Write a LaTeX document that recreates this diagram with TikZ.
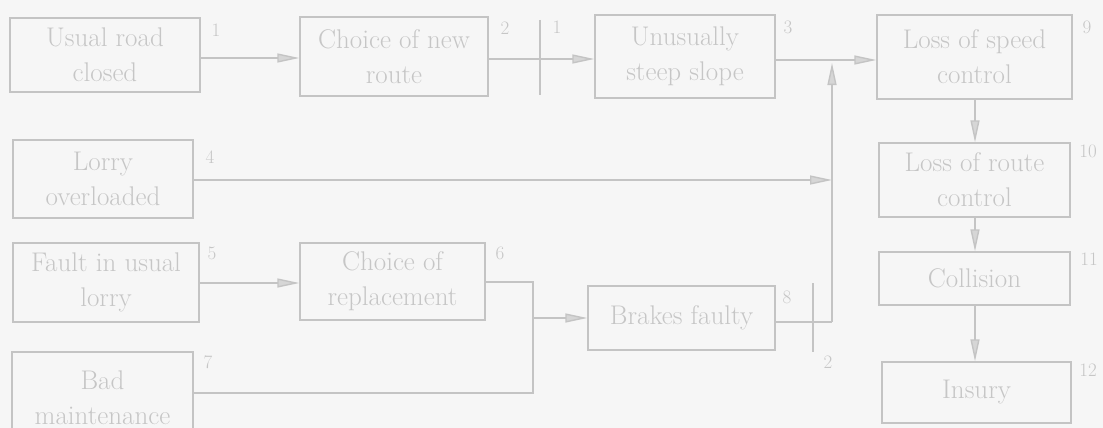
\documentclass[tikz,border=0pt]{standalone}
\usetikzlibrary{arrows.meta}
\definecolor{bgc}{RGB}{246,246,246}
\definecolor{linec}{RGB}{196,196,196}
\definecolor{textc}{RGB}{198,198,198}
\definecolor{headc}{RGB}{214,214,214}
\tikzset{
  evbox/.style={draw=linec, line width=1.4pt, align=center, text=textc,
    inner sep=0pt, font=\fontsize{27}{35}\selectfont},
  numlbl/.style={text=textc, inner sep=0pt, font=\fontsize{19}{22}\selectfont},
  ln/.style={draw=linec, line width=1.4pt},
  arr/.style={ln, -{Triangle[length=22pt,width=9pt,fill=headc]}},
}
\begin{document}
\begin{tikzpicture}[x=1pt,y=-1pt]
\useasboundingbox (0,0) rectangle (1103,428);
\fill[bgc] (0,0) rectangle (1103,428);

% events
\node[evbox, minimum width=190pt, minimum height=74pt] (b1) at (105,55) {Usual road\\closed};
\node[evbox, minimum width=188pt, minimum height=79pt] (b2) at (394,56.5) {Choice of new\\route};
\node[evbox, minimum width=180pt, minimum height=83pt] (b3) at (685,56.5) {Unusually\\steep slope};
\node[evbox, minimum width=195pt, minimum height=84pt] (b9) at (974.5,57) {Loss of speed\\control};
\node[evbox, minimum width=180pt, minimum height=78pt] (b4) at (103,179) {Lorry\\overloaded};
\node[evbox, minimum width=191pt, minimum height=74pt] (b10) at (974.5,180) {Loss of route\\control};
\node[evbox, minimum width=186pt, minimum height=79pt] (b5) at (106,282.5) {Fault in usual\\lorry};
\node[evbox, minimum width=185pt, minimum height=77pt] (b6) at (392.5,281.5) {Choice of\\replacement};
\node[evbox, minimum width=187pt, minimum height=64pt] (b8) at (681.5,318) {Brakes faulty};
\node[evbox, minimum width=191pt, minimum height=53pt] (b11) at (974.5,278.5) {Collision};
\node[evbox, minimum width=181pt, minimum height=92pt] (b7) at (102.5,398) {Bad\\maintenance};
\node[evbox, minimum width=189pt, minimum height=61pt] (b12) at (976.5,392.5) {Insury};

% event numbers
\node[numlbl] (n1) at (216,30) {1};
\node[numlbl] (n2) at (505,28) {2};
\node[numlbl] (n3) at (788,27) {3};
\node[numlbl] (n9) at (1087,27) {9};
\node[numlbl] (n4) at (210,157) {4};
\node[numlbl] (n10) at (1088,151) {10};
\node[numlbl] (n5) at (212,253) {5};
\node[numlbl] (n6) at (500,253) {6};
\node[numlbl] (n8) at (787,297) {8};
\node[numlbl] (n11) at (1089,259) {11};
\node[numlbl] (n7) at (208,362) {7};
\node[numlbl] (n12) at (1088,370) {12};

% cut markers
\coordinate (c1t) at (540,20);
\coordinate (c1b) at (540,95);
\coordinate (c2t) at (813,283);
\coordinate (c2b) at (813,352);
\draw[ln] (c1t) -- (c1b);
\draw[ln] (c2t) -- (c2b);
\node[numlbl] (m1) at (557,27) {1};
\node[numlbl] (m2) at (828,362) {2};

% junction points
\coordinate (ja) at (533,282);
\coordinate (jb) at (533,393);
\coordinate (jc) at (533,318);
\coordinate (ka) at (832,322);
\coordinate (kb) at (832,63);
\coordinate (kc) at (832,180);

% connectors
\draw[arr] (b1.east |- 0,58) -- (b2.west |- 0,58);
\draw[arr] (b2.east |- 0,59) -- (b3.west |- 0,59);
\draw[arr] (b3.east |- 0,60) -- (b9.west |- 0,60);
\draw[arr] (b9.south -| 975,0) -- (b10.north -| 975,0);
\draw[arr] (b10.south -| 975,0) -- (b11.north -| 975,0);
\draw[arr] (b11.south -| 975,0) -- (b12.north -| 975,0);
\draw[arr] (b4.east |- kc) -- (kc);
\draw[arr] (b5.east |- 0,283) -- (b6.west |- 0,283);
\draw[ln] (b6.east |- ja) -- (ja) -- (jb) -- (b7.east |- jb);
\draw[arr] (jc) -- (b8.west |- jc);
\draw[ln] (b8.east |- ka) -- (ka);
\draw[arr] (ka) -- (kb);
\end{tikzpicture}
\end{document}
